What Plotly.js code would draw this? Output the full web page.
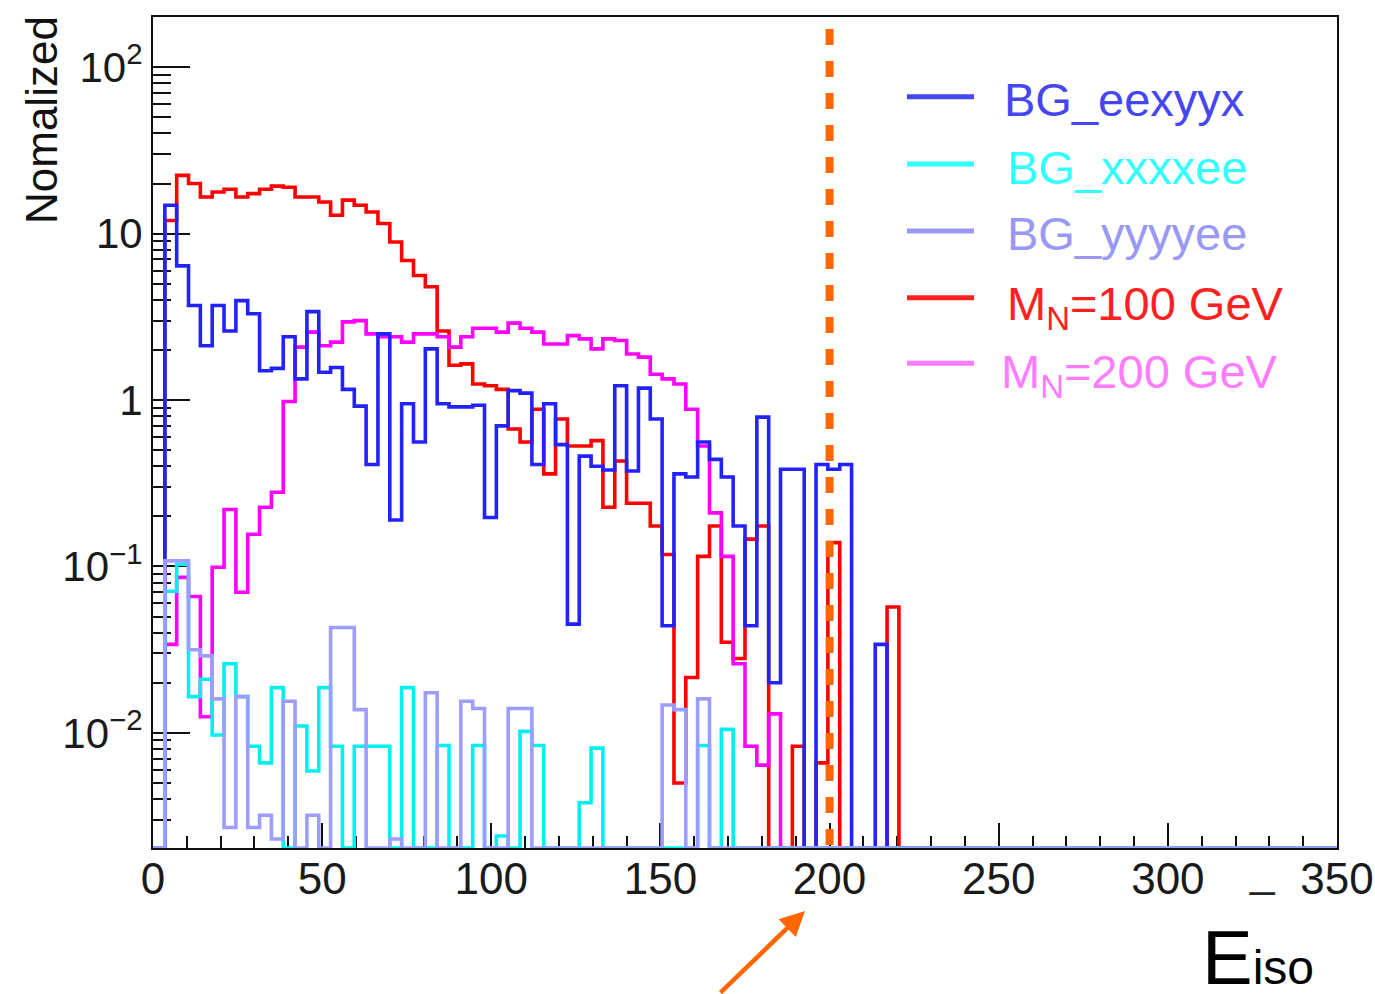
<!DOCTYPE html>
<html><head><meta charset="utf-8">
<script src="https://cdn.plot.ly/plotly-3.0.1.min.js"></script>
<style>html,body{margin:0;padding:0;background:#fff;} #chart{width:1375px;height:994px;}</style>
</head><body><div id="chart"></div>
<script>
// Histogram definition: 100 bins of width 3.5 from 0 to 350
const binWidth = 3.5;
const nBins = 100;

// Bin contents (bin 0 = [0,3.5)); bins not listed are empty
const bgEexyyx = [0, 14.8, 6.4, 3.7, 2.12, 3.7, 2.6, 3.96, 3.3, 1.5,
  1.55, 2.4, 1.34, 3.4, 1.47, 1.57, 1.16, 0.92, 0.41, 2.5,
  0.19, 0.95, 0.56, 2.03, 0.95, 0.91, 0.91, 0.93, 0.197, 0.70,
  1.14, 1.1, 0.41, 0.95, 0.54, 0.045, 0.46, 0.40, 0.38, 1.22,
  0.375, 1.18, 0.77, 0.044, 0.36, 0.345, 0.56, 0.44, 0.345, 0.175,
  0.044, 0.79, 0.020, 0.384, 0.384, 0, 0.41, 0.384, 0.41, 0,
  0, 0.034];
const bgXxxxee = [0, 0.071, 0.103, 0.0165, 0.021, 0.0097, 0.026, 0.0165, 0.0083, 0.0066,
  0.0187, 0, 0.011, 0.0059, 0.0187, 0.0083, 0, 0.0083, 0.0083, 0.0083,
  0, 0.0187, 0, 0, 0.0084, 0, 0, 0.0084, 0, 0.0024,
  0, 0.0102, 0.0084, 0, 0, 0, 0.0038, 0.0081, 0, 0,
  0, 0, 0, 0, 0, 0, 0.0084, 0, 0.0105];
const bgYyyyee = [0, 0.108, 0.108, 0.0316, 0.029, 0.016, 0.0027, 0.0165, 0.0027, 0.0032,
  0.0023, 0.0155, 0, 0.0032, 0, 0.043, 0.043, 0.0138, 0, 0,
  0.0023, 0, 0, 0.0174, 0, 0, 0.0155, 0.014, 0, 0,
  0.014, 0.014, 0, 0, 0, 0, 0, 0, 0, 0,
  0, 0, 0, 0.0147, 0.0138, 0, 0.016];
const mN100 = [0, 12.0, 22.4, 20.0, 16.6, 17.8, 18.5, 16.6, 17.4, 18.5,
  19.3, 19.0, 16.6, 16.6, 15.5, 12.9, 15.9, 14.8, 13.5, 11.5,
  8.9, 6.9, 5.6, 4.8, 2.6, 1.62, 1.65, 1.25, 1.22, 1.16,
  0.67, 0.56, 0.88, 0.36, 0.77, 0.53, 0.53, 0.57, 0.227, 0.43,
  0.24, 0.24, 0.175, 0.118, 0.005, 0.0215, 0.115, 0.175, 0.035, 0.028,
  0.146, 0.175, 0, 0, 0.0083, 0, 0.0066, 0.139, 0, 0,
  0, 0, 0.057];
const mN200 = [0, 0.034, 0.086, 0.066, 0.0125, 0.099, 0.22, 0.070, 0.156, 0.227,
  0.279, 0.98, 2.08, 2.56, 2.12, 2.23, 2.95, 3.0, 2.5, 2.4,
  2.4, 2.23, 2.5, 2.5, 2.4, 2.08, 2.4, 2.7, 2.7, 2.56,
  2.9, 2.7, 2.56, 2.17, 2.17, 2.44, 2.33, 2.03, 2.33, 2.28,
  1.89, 1.81, 1.43, 1.34, 1.25, 0.88, 0.53, 0.21, 0.115, 0.026,
  0.0083, 0.0064, 0.013];

const legendNames = ['BG_eexyyx', 'BG_xxxxee', 'BG_yyyyee', 'M<sub>N</sub>=100 GeV', 'M<sub>N</sub>=200 GeV'];
const legendData = [bgEexyyx, bgXxxxee, bgYyyyee, mN100, mN200];
const lineColors = ['#2222ff', '#00f0f0', '#9d9dff', '#ff0000', '#ff00ff'];
const legendColors = ['#4646f0', '#33ffff', '#9999f5', '#ff2020', '#ff7bff'];
const drawOrder = [3, 4, 0, 1, 2];

const yTickVals = [0.01, 0.1, 1, 10, 100];
const yTickText = ['10<sup>\u22122</sup>', '10<sup>\u22121</sup>', '1', '10', '10<sup>2</sup>'];
const xTitle = 'E<span style="font-size:48px">iso</span>';
const yTitle = 'Nomalized';
const cutValue = 200;

// ---- geometry (pixels of the 1375x994 page) ----
const W = 1375, H = 994, PL = 153, PR = 1337, PT = 17, PB = 848;
const yRange = [-2.692, 2.302];
const floorVal = Math.pow(10, yRange[0]);
const px2xp = p => (p - PL) / (PR - PL);
const px2yp = p => (PB - p) / (PB - PT);

function histXY(vals) {
  const x = [], y = [];
  for (let i = 0; i <= nBins; i++) {
    x.push(i * binWidth);
    const idx = Math.min(i, nBins - 1);
    const v = vals[idx] || 0;
    y.push(v > 0 ? v : floorVal);
  }
  return {x, y};
}

const traces = drawOrder.map(k => {
  const h = histXY(legendData[k]);
  return {type: 'scatter', mode: 'lines', x: h.x, y: h.y,
    line: {shape: 'hv', color: lineColors[k], width: 3.6},
    showlegend: false, hoverinfo: 'skip'};
});

const minorY = [];
for (let e = -3; e <= 2; e++) for (let d = 2; d <= 9; d++) minorY.push(d * Math.pow(10, e));

const font = 'Liberation Sans, Arial, Helvetica, sans-serif';
const shapes = [];
const annotations = [];

// legend
const legRowsLine = [96.7, 164, 231, 297.7, 363.3];
const legRowsTop = [71, 139.5, 204.5, 274.5, 343];
const legX = [1002, 1005, 1005, 1005, 999];
legendNames.forEach((nm, k) => {
  shapes.push({type: 'line', xref: 'paper', yref: 'paper',
    x0: px2xp(907), x1: px2xp(974), y0: px2yp(legRowsLine[k]), y1: px2yp(legRowsLine[k]),
    line: {color: legendColors[k], width: 5}});
  annotations.push({xref: 'paper', yref: 'paper', x: px2xp(legX[k]), y: px2yp(legRowsTop[k]),
    xanchor: 'left', yanchor: 'top', showarrow: false, text: nm,
    font: {family: font, size: 47, color: legendColors[k]}});
});

// dashed cut line
shapes.push({type: 'line', xref: 'x', yref: 'paper', x0: cutValue, x1: cutValue,
  y0: px2yp(29), y1: 0, layer: 'above',
  line: {color: '#ff6600', width: 8, dash: '16px,16px'}});

// y title (top aligned)
annotations.push({xref: 'paper', yref: 'paper', x: px2xp(42), y: px2yp(14),
  xanchor: 'center', yanchor: 'top', textangle: -90, showarrow: false, text: yTitle,
  font: {family: font, size: 44, color: '#111'}});
// x title
annotations.push({xref: 'paper', yref: 'paper', x: px2xp(1200), y: px2yp(913),
  xanchor: 'left', yanchor: 'top', showarrow: false, text: xTitle,
  font: {family: font, size: 76, color: '#000'}});
// stray underscore
annotations.push({xref: 'paper', yref: 'paper', x: px2xp(1262), y: px2yp(844),
  xanchor: 'center', yanchor: 'top', showarrow: false, text: '_',
  font: {family: font, size: 44, color: '#222'}});
// arrow
annotations.push({xref: 'x', yref: 'paper', x: (805 - PL) / (PR - PL) * 350, y: px2yp(911),
  text: '', showarrow: true, arrowhead: 2, arrowsize: 1.1, arrowwidth: 4.5,
  arrowcolor: '#ff6600', ax: -86, ay: 85, standoff: 0});

const layout = {
  width: W, height: H,
  margin: {l: PL, r: W - PR, t: PT, b: H - PB, pad: 0},
  paper_bgcolor: '#fff', plot_bgcolor: '#fff',
  showlegend: false,
  xaxis: {range: [0, 350], tickmode: 'linear', tick0: 0, dtick: 50,
    ticks: 'inside', ticklen: 25, tickwidth: 2, tickcolor: '#111',
    minor: {tick0: 0, dtick: 10, ticks: 'inside', ticklen: 12, tickwidth: 2, tickcolor: '#111', showgrid: false},
    showline: true, linewidth: 2, linecolor: '#111', mirror: true,
    showgrid: false, zeroline: false, layer: 'below traces',
    ticklabelstandoff: -9,
    tickfont: {family: font, size: 44, color: '#1a1a1a'}},
  yaxis: {type: 'log', range: yRange, tickmode: 'array', tickvals: yTickVals, ticktext: yTickText,
    ticks: 'inside', ticklen: 37, tickwidth: 2, tickcolor: '#111',
    minor: {tickmode: 'array', tickvals: minorY, ticks: 'inside', ticklen: 18, tickwidth: 2, tickcolor: '#111', showgrid: false},
    showline: true, linewidth: 2, linecolor: '#111', mirror: true,
    showgrid: false, zeroline: false, layer: 'below traces',
    ticklabelstandoff: 0,
    tickfont: {family: font, size: 42, color: '#1a1a1a'}},
  shapes, annotations
};

Plotly.newPlot('chart', traces, layout, {displayModeBar: false, staticPlot: true});
</script>
</body></html>
